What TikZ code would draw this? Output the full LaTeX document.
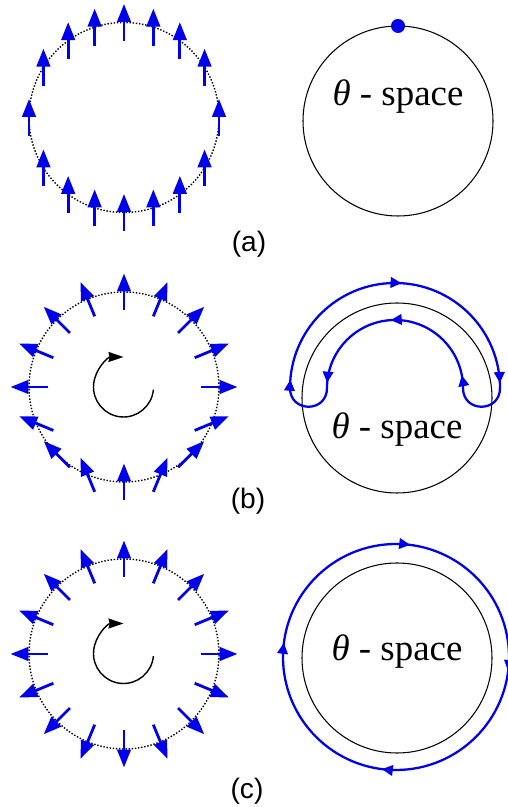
\documentclass[tikz,border=0pt]{standalone}
\usepackage{fontspec}
\setmainfont{Liberation Serif}
\newfontfamily\labelfont{Liberation Sans}
\usetikzlibrary{arrows.meta, calc, decorations.markings}
\definecolor{spinblue}{RGB}{0,0,235}
\tikzset{
  spin/.style={spinblue, line width=1.6pt, -{Triangle[length=0.36cm,width=0.27cm]}},
  dotcirc/.style={dash pattern=on 0.8pt off 1.0pt, line width=0.8pt},
  spacecirc/.style={line width=0.6pt},
  loopline/.style={spinblue, line width=1.3pt},
  midtip/.style={postaction={decorate, decoration={markings,
    mark=at position #1 with {\arrow{Triangle[length=0.22cm,width=0.21cm]}}}}},
  turn/.style={line width=0.8pt, -{Stealth[length=0.3cm,width=0.2cm,inset=0.6pt]}},
  spacetext/.style={font=\fontsize{21}{25}\selectfont},
  panellabel/.style={font=\labelfont\fontsize{16}{19}\selectfont}
}

\begin{document}
\begin{tikzpicture}[x=0.02cm, y=0.02cm]
  \useasboundingbox (0,0) rectangle (507,807);

  % (a) uniform state
  \draw[dotcirc] (124,689.5) circle[radius=95];
  \foreach \a in {0,32,54,72,90,108,126,148,180,212,234,252,270,288,306,328}
    \draw[spin] ($(124,689.5)+(\a:95)+(90:-18.5)$) -- ++(90:37);
  \draw[spacecirc] (398,686) circle[radius=95];
  \fill[spinblue] (398,781) circle[radius=7];
  \node[spacetext] (ta) at (398,710) {\textit{θ} - space};
  \node[panellabel] (la) at (249,563) {(a)};

  % (b) no winding
  \draw[dotcirc] (124,420) circle[radius=95];
  \foreach \a [evaluate=\a as \t using {acos(cos(\a))}] in {0,22.5,...,337.5}
    \draw[spin] ($(124,420)+(\a:95)+(\t:-18.5)$) -- ++(\t:37);
  \draw[turn] ($(123.5,420)+(-5:30)$) arc[start angle=-5, end angle=-270, radius=30];
  \draw[spacecirc] (397,409) circle[radius=95];
  \draw[loopline, midtip=0.025, midtip=0.52, midtip=0.985]
    (290,419) arc[start angle=180, end angle=0, radius=105];
  \draw[loopline, midtip=0.06, midtip=0.52, midtip=0.975]
    (463,419) arc[start angle=0, end angle=180, radius=68];
  \draw[loopline] (500,419) .. controls (500,394) and (463,394) .. (463,419);
  \draw[loopline] (327,419) .. controls (327,394) and (290,394) .. (290,419);
  \node[spacetext] (tb) at (397,377) {\textit{θ} - space};
  \node[panellabel] (lb) at (248,306) {(b)};

  % (c) winding one
  \draw[dotcirc] (124,153) circle[radius=95];
  \foreach \a in {0,22.5,...,337.5}
    \draw[spin] ($(124,153)+(\a:95)+(\a:-18.5)$) -- ++(\a:37);
  \draw[turn] ($(123.5,153.5)+(-5:30)$) arc[start angle=-5, end angle=-270, radius=30];
  \draw[spacecirc] (397,149) circle[radius=95];
  \draw[loopline, midtip=0.02, midtip=0.27, midtip=0.52, midtip=0.77]
    (396,263) arc[start angle=90, end angle=-270, radius=113];
  \node[spacetext] (tc) at (397,155) {\textit{θ} - space};
  \node[panellabel] (lc) at (247,16) {(c)};
\end{tikzpicture}
\end{document}
